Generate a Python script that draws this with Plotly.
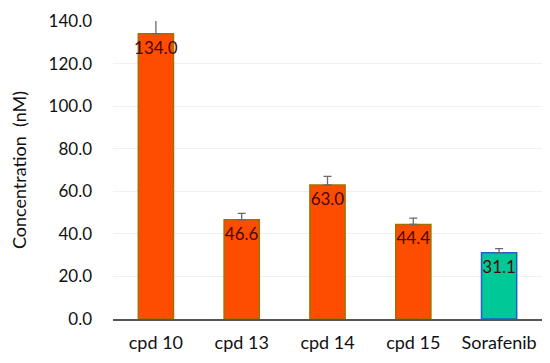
import plotly.graph_objects as go

categories = ["cpd 10", "cpd 13", "cpd 14", "cpd 15", "Sorafenib"]
values = [134.0, 46.6, 63.0, 44.4, 31.1]
errors = [9.5, 3.0, 4.0, 3.0, 2.0]
labels = ["134.0", "46.6", "63.0", "44.4", "31.1"]
fill_colors = ["#FF4D00", "#FF4D00", "#FF4D00", "#FF4D00", "#00C896"]
line_colors = ["#A07000", "#A07000", "#A07000", "#A07000", "#1F5FD0"]
y_ticks = [0, 20, 40, 60, 80, 100, 120, 140]

fig = go.Figure(go.Bar(
    x=categories, y=values,
    marker=dict(color=fill_colors, line=dict(color=line_colors, width=1.5)),
    error_y=dict(type="data", symmetric=False, array=errors, arrayminus=[0] * len(errors),
                 visible=True, color="#6A6A6A", thickness=1.3, width=4),
    text=labels, textposition="inside", insidetextanchor="end",
    textfont=dict(color="#4A0808", size=17, family="Lato"),
    textangle=0, cliponaxis=False,
))

# page has an 8px body margin, so the figure is sized 542x355
fig.update_layout(
    width=542, height=355,
    margin=dict(l=105, r=8, t=13, b=44),
    paper_bgcolor="white", plot_bgcolor="white",
    bargap=0.59, showlegend=False,
    font=dict(family="Lato", size=16, color="#111111"),
    uniformtext=dict(minsize=17, mode="show"),
)
fig.update_xaxes(showline=True, linecolor="#555555", linewidth=1.5, ticks="",
                 ticklabelstandoff=7, automargin=False,
                 tickfont=dict(size=18, family="Lato", color="#111111"))
fig.update_yaxes(range=[0, 140], tickvals=y_ticks, tickformat=".1f",
                 showgrid=True, gridcolor="#F0F0F0", zeroline=False,
                 ticklabelstandoff=20, automargin=False,
                 tickfont=dict(size=17, family="Lato", color="#111111"),
                 title=dict(text="Concentration  (nM)", font=dict(size=18, family="Lato", color="#111111"), standoff=23))

fig.write_html("out.html")
